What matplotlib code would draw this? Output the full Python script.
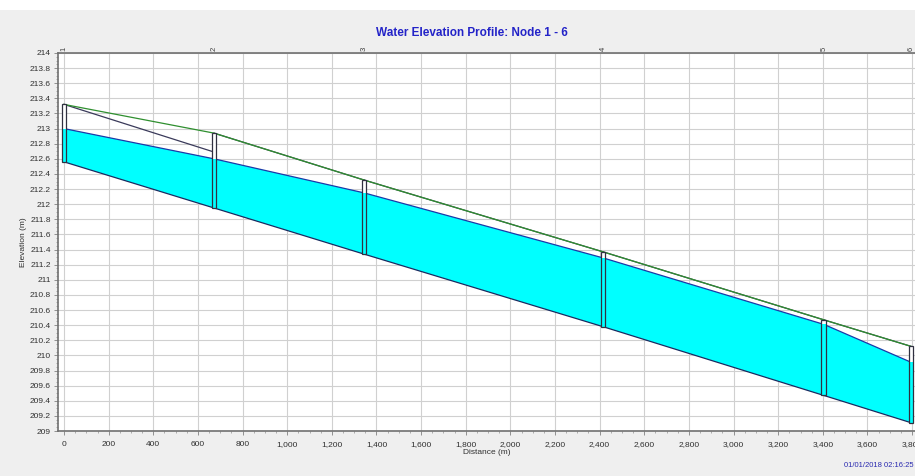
import matplotlib.pyplot as plt
from matplotlib.patches import Rectangle
from matplotlib.ticker import FuncFormatter, MultipleLocator

# node data
node_labels = ["1", "2", "3", "4", "5", "6"]
node_dist = [0, 672, 1344, 2415, 3405, 3795]
invert = [212.56, 211.95, 211.34, 210.38, 209.47, 209.11]
rim = [213.32, 212.94, 212.32, 211.37, 210.47, 210.12]
water = [213.00, 212.60, 212.15, 211.29, 210.41, 209.91]

# pipe crowns (upstream / downstream end of each link)
crown_up = [213.32, 212.94, 212.32, 211.37, 210.47]
crown_dn = [212.69, 212.32, 211.37, 210.47, 210.12]

x_ticks = list(range(0, 3801, 200))
y_ticks = [209 + 0.2 * i for i in range(26)]

plt.rcParams["font.family"] = ["Liberation Sans", "DejaVu Sans"]

fig = plt.figure(figsize=(9.15, 4.76), dpi=100, facecolor="#efefef")
fig.patches.append(Rectangle((0, 0.979), 1, 0.021, transform=fig.transFigure,
                             facecolor="white", edgecolor="none"))
ax = fig.add_axes([0.0634, 0.0945, 0.9366, 0.7942])
ax.set_facecolor("white")

# water between invert and water surface
for i in range(len(node_dist) - 1):
    xs = [node_dist[i], node_dist[i + 1], node_dist[i + 1], node_dist[i]]
    ys = [invert[i], invert[i + 1], water[i + 1], water[i]]
    ax.fill(xs, ys, color="#00ffff", zorder=2, linewidth=0)
    ax.plot(node_dist[i:i + 2], water[i:i + 2], color="#1a3aa8", lw=0.9, zorder=3)
    ax.plot(node_dist[i:i + 2], invert[i:i + 2], color="#1a2a60", lw=0.9, zorder=3)
    ax.plot(node_dist[i:i + 2], [crown_up[i], crown_dn[i]], color="#3a3a5a", lw=0.9, zorder=3)

ax.plot(node_dist, rim, color="#2f8f2f", lw=0.9, zorder=4)

# node boxes
w = 22
for d, inv, top, wl in zip(node_dist, invert, rim, water):
    ax.add_patch(Rectangle((d - w / 2, inv), w, top - inv, facecolor="white",
                           edgecolor="none", zorder=5))
    ax.add_patch(Rectangle((d - w / 2, inv), w, wl - inv, facecolor="#00ffff",
                           edgecolor="none", zorder=5))
    ax.add_patch(Rectangle((d - w / 2, inv), w, top - inv, facecolor="none",
                           edgecolor="#303040", lw=0.9, zorder=6))

ax.set_xlim(-27, 3813)
ax.set_ylim(209, 214)
ax.set_xticks(x_ticks)
ax.set_yticks(y_ticks)
ax.xaxis.set_minor_locator(MultipleLocator(50))
ax.yaxis.set_minor_locator(MultipleLocator(0.05))
ax.xaxis.set_major_formatter(FuncFormatter(lambda v, p: f"{int(v):,}"))
ax.yaxis.set_major_formatter(FuncFormatter(lambda v, p: f"{v:.1f}".rstrip("0").rstrip(".")))
ax.tick_params(axis="both", labelsize=6, length=3, width=0.6, color="#808080",
               labelcolor="#303030", pad=2)
ax.tick_params(axis="x", pad=4)
ax.tick_params(axis="both", which="minor", length=1.5, width=0.5, color="#909090")
ax.grid(True, color="#d0d0d0", lw=0.8)
ax.set_axisbelow(True)

for side in ["left", "top", "bottom"]:
    ax.spines[side].set_color("#707070")
    ax.spines[side].set_linewidth(1.2)
ax.spines["right"].set_visible(False)

# node names along the top
for d, lab in zip(node_dist, node_labels):
    ax.text(d, 214.03, lab, rotation=90, fontsize=5.5, ha="center", va="bottom",
            color="#404040", clip_on=False)

ax.set_xlabel("Distance (m)", fontsize=6, labelpad=1, color="#303030")
ax.set_ylabel("Elevation (m)", fontsize=6, labelpad=2, color="#303030")

fig.text(0.516, 0.93, "Water Elevation Profile: Node 1 - 6", fontsize=8.5,
         fontweight="bold", color="#2323c8", ha="center", va="center")
fig.text(0.998, 0.022, "01/01/2018 02:16:25", fontsize=5.5, color="#2a2ab0",
         ha="right", va="center")

fig.savefig("out.png", dpi=100, facecolor=fig.get_facecolor())
